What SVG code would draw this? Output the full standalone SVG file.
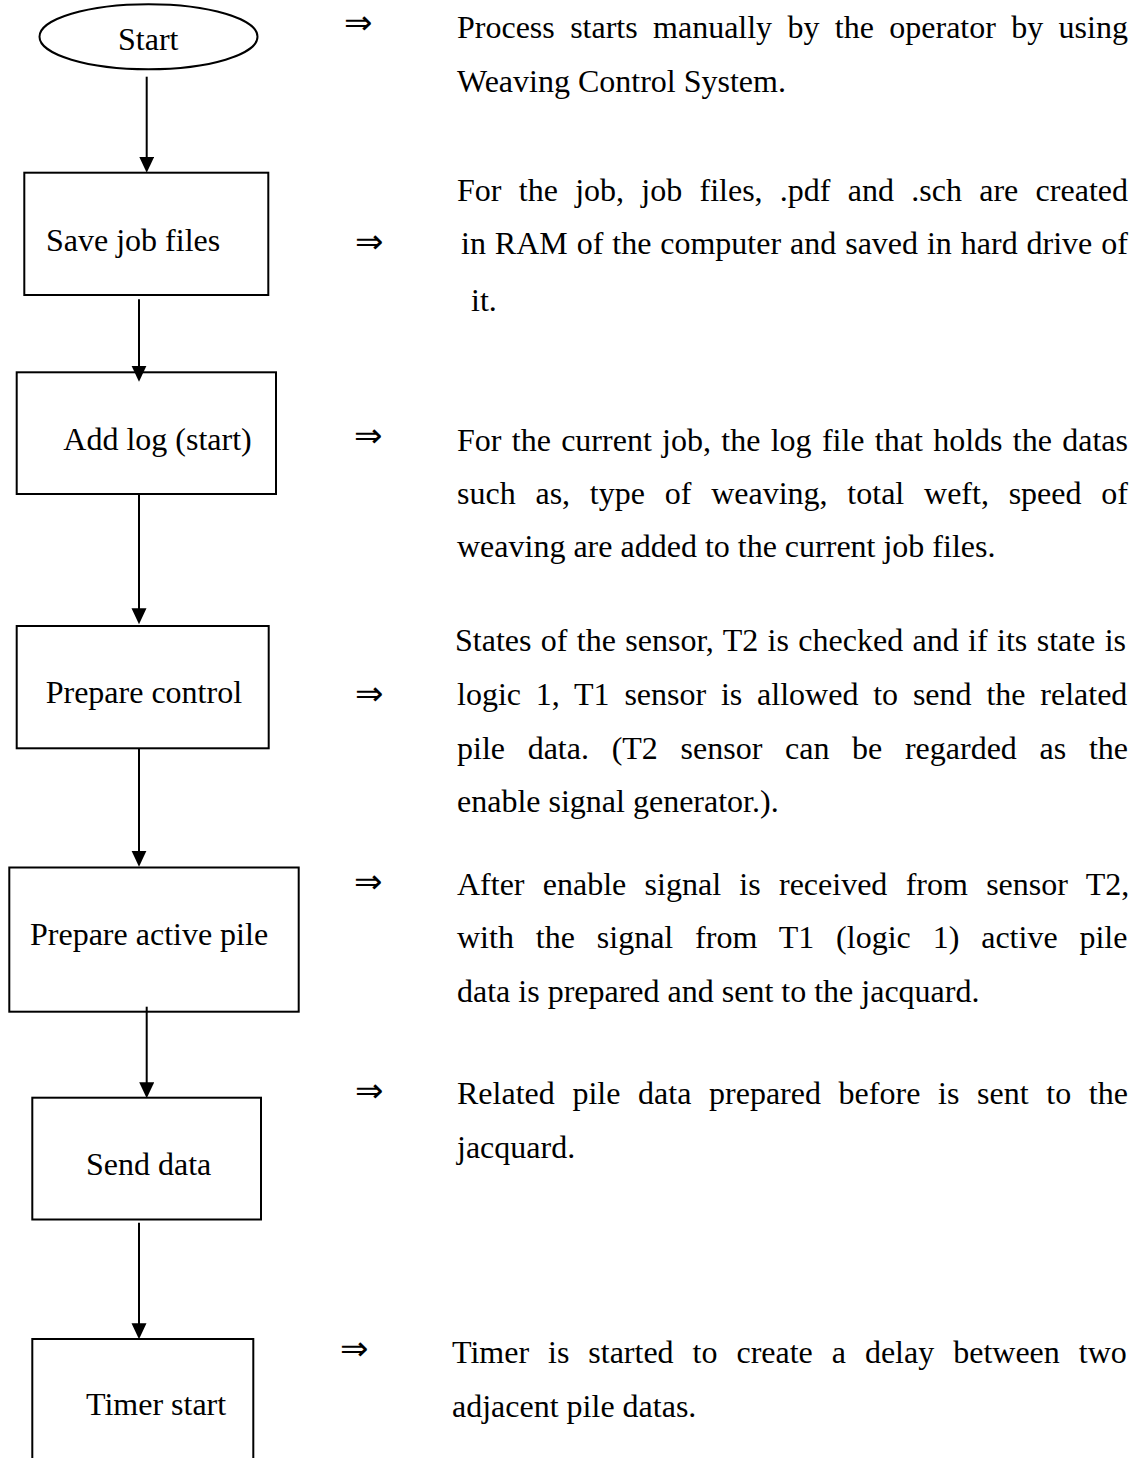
<svg xmlns="http://www.w3.org/2000/svg" width="1143" height="1458" viewBox="0 0 1143 1458">
  <style>
    .shape { fill: #fff; stroke: #000; stroke-width: 2; }
    .edge { fill: none; stroke: #000; stroke-width: 2; }
    .lbl { font-family: "Liberation Serif", "Times New Roman", serif; font-size: 32px; fill: #000; }
    .desc { font-family: "Liberation Serif", "Times New Roman", serif; font-size: 32px; fill: #000; }
    .imp { font-family: "DejaVu Sans", "DejaVu Serif", sans-serif; font-size: 34px; fill: #000; }
  </style>
  <defs>
    <marker id="ah" markerUnits="userSpaceOnUse" markerWidth="18" markerHeight="16" refX="6" refY="7.5" orient="auto">
      <path d="M0,0 L16,7.5 L0,15 Z" fill="#000"/>
    </marker>
  </defs>

  <rect width="1143" height="1458" fill="#fff"/>

  <!-- process steps -->
  <g id="start">
    <ellipse class="shape" cx="148.5" cy="36.7" rx="109" ry="32.5"/>
    <text class="lbl" x="118" y="50">Start</text>
  </g>
  <g id="save-job-files">
    <rect class="shape" x="24.3" y="172.7" width="244" height="122.3"/>
    <text class="lbl" x="46" y="250.7">Save job files</text>
  </g>
  <g id="add-log">
    <rect class="shape" x="16.7" y="372.3" width="259.3" height="121.7"/>
    <text class="lbl" x="63.3" y="450">Add log (start)</text>
  </g>
  <g id="prepare-control">
    <rect class="shape" x="16.7" y="626" width="252" height="122.3"/>
    <text class="lbl" x="45.7" y="703.3">Prepare control</text>
  </g>
  <g id="prepare-active-pile">
    <rect class="shape" x="9.3" y="867.5" width="289.4" height="144.2"/>
    <text class="lbl" x="30" y="945">Prepare active pile</text>
  </g>
  <g id="send-data">
    <rect class="shape" x="32.3" y="1097.7" width="228.7" height="121.8"/>
    <text class="lbl" x="86" y="1175">Send data</text>
  </g>
  <g id="timer-start">
    <rect class="shape" x="32.3" y="1339" width="221" height="160"/>
    <text class="lbl" x="86" y="1415">Timer start</text>
  </g>

  <!-- flow connectors, drawn over the box edges they touch -->
  <g id="connectors">
    <line class="edge" x1="146.7" y1="76.7" x2="146.7" y2="162.7" marker-end="url(#ah)"/>
    <line class="edge" x1="139" y1="299.3" x2="139" y2="371.7" marker-end="url(#ah)"/>
    <line class="edge" x1="139" y1="494" x2="139" y2="614.3" marker-end="url(#ah)"/>
    <line class="edge" x1="139" y1="748" x2="139" y2="856.7" marker-end="url(#ah)"/>
    <line class="edge" x1="146.7" y1="1006.7" x2="146.7" y2="1088.3" marker-end="url(#ah)"/>
    <line class="edge" x1="139" y1="1222.7" x2="139" y2="1329.3" marker-end="url(#ah)"/>
  </g>

  <!-- explanations beside each step -->
  <g id="note-start">
    <text class="imp" x="344" y="34">⇒</text>
    <text class="desc" x="457" y="38" style="word-spacing:7.36px">Process starts manually by the operator by using</text>
    <text class="desc" x="457" y="92">Weaving Control System.</text>
  </g>
  <g id="note-save">
    <text class="imp" x="355" y="253">⇒</text>
    <text class="desc" x="457" y="201" style="word-spacing:9.29px">For the job, job files, .pdf and .sch are created</text>
    <text class="desc" x="461" y="254" style="word-spacing:0.93px">in RAM of the computer and saved in hard drive of</text>
    <text class="desc" x="471" y="311">it.</text>
  </g>
  <g id="note-log">
    <text class="imp" x="354" y="447">⇒</text>
    <text class="desc" x="457" y="451" style="word-spacing:2.31px">For the current job, the log file that holds the datas</text>
    <text class="desc" x="457" y="504" style="word-spacing:11.78px">such as, type of weaving, total weft, speed of</text>
    <text class="desc" x="457" y="557">weaving are added to the current job files.</text>
  </g>
  <g id="note-control">
    <text class="imp" x="355" y="705">⇒</text>
    <text class="desc" x="455" y="651" style="word-spacing:1.39px">States of the sensor, T2 is checked and if its state is</text>
    <text class="desc" x="457" y="705" style="word-spacing:6.81px">logic 1, T1 sensor is allowed to send the related</text>
    <text class="desc" x="457" y="759" style="word-spacing:14.68px">pile data. (T2 sensor can be regarded as the</text>
    <text class="desc" x="457" y="812">enable signal generator.).</text>
  </g>
  <g id="note-pile">
    <text class="imp" x="354" y="893">⇒</text>
    <text class="desc" x="457" y="895" style="word-spacing:10.3px">After enable signal is received from sensor T2,</text>
    <text class="desc" x="457" y="948" style="word-spacing:13.9px">with the signal from T1 (logic 1) active pile</text>
    <text class="desc" x="457" y="1002">data is prepared and sent to the jacquard.</text>
  </g>
  <g id="note-send">
    <text class="imp" x="355" y="1102">⇒</text>
    <text class="desc" x="457" y="1104" style="word-spacing:9.67px">Related pile data prepared before is sent to the</text>
    <text class="desc" x="457" y="1158">jacquard.</text>
  </g>
  <g id="note-timer">
    <text class="imp" x="340" y="1360">⇒</text>
    <text class="desc" x="452" y="1363" style="word-spacing:10.96px">Timer is started to create a delay between two</text>
    <text class="desc" x="452" y="1417">adjacent pile datas.</text>
  </g>
</svg>
